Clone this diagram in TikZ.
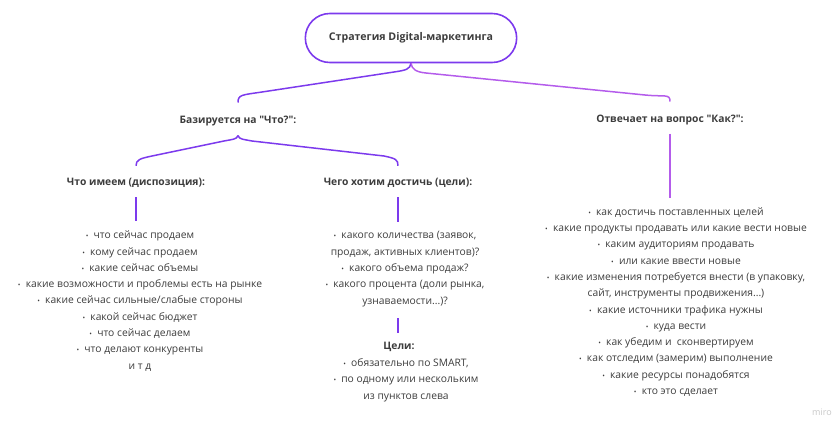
\documentclass[tikz,border=0pt]{standalone}
\usepackage{fontspec}
\setmainfont{Open Sans}
\usetikzlibrary{positioning,shapes.misc}
\definecolor{mpurple}{HTML}{7C3AED}
\definecolor{mviolet}{HTML}{B45CEB}
\definecolor{mtext}{HTML}{3C3C3C}
\tikzset{
	root/.style={rounded rectangle, draw=mpurple, line width=1.6pt, minimum width=218pt, minimum height=49pt, font=\bfseries\fontsize{10.6}{12}\selectfont, text=mtext},
	head/.style={font=\bfseries\fontsize{10.3}{12}\selectfont, text=mtext},
	items/.style={align=center, font=\fontsize{10.3}{16.3}\selectfont, text=mtext},
	link/.style={draw=mpurple, line width=1.5pt},
	link2/.style={draw=mviolet, line width=1.5pt}
}
\newcommand{\bul}{{\scriptsize•}\enspace}
\newcommand{\qt}{\textquotedbl}

\begin{document}
\begin{tikzpicture}[x=1pt, y=-1pt]
	\useasboundingbox (0,0) rectangle (838,421);
	% top
	\node[root] (root) at (411,38) {Стратегия Digital-маркетинга};
	\node[head] (base) at (238,121) {Базируется на \qt Что?\qt:};
	\node[head] (how) at (670,120) {Отвечает на вопрос \qt Как?\qt:};
	\node[head] (have) at (136,183) {Что имеем (диспозиция):};
	\node[head] (want) at (398,183) {Чего хотим достичь (цели):};
	% lists
	\node[items] (haveList) at (140,301) {\bul что сейчас продаем\\ \bul кому сейчас продаем\\ \bul какие сейчас объемы\\
		\bul какие возможности и проблемы есть на рынке\\ \bul какие сейчас сильные/слабые стороны\\
		\bul какой сейчас бюджет\\ \bul что сейчас делаем\\ \bul что делают конкуренты\\ и т д};
	\node[items] (wantList) at (405,269) {\bul какого количества (заявок,\\ продаж, активных клиентов)?\\
		\bul какого объема продаж?\\ \bul какого процента (доли рынка,\\ узнаваемости...)?};
	\node[head] (goals) at (399,347) {Цели:};
	\node[items] (goalsList) at (406,380) {\bul обязательно по SMART,\\ \bul по одному или нескольким\\ из пунктов слева};
	\node[items] (howList) at (676,302) {\bul как достичь поставленных целей\\ \bul какие продукты продавать или какие вести новые\\
		\bul каким аудиториям продавать\\ \bul или какие ввести новые\\ \bul какие изменения потребуется внести (в упаковку,\\
		сайт, инструменты продвижения...)\\ \bul какие источники трафика нужны\\ \bul куда вести\\
		\bul как убедим и \ сконвертируем\\ \bul как отследим (замерим) выполнение\\ \bul какие ресурсы понадобятся\\ \bul кто это сделает};
	\node[text=black!22, font=\fontsize{9}{10}\selectfont] (miro) at (822,412) {miro};
	% braces
	\draw[link] (root.south) .. controls +(-1,6) and +(12,-1.8) .. (394,72) -- (262,92)
		.. controls +(-20,3) and +(0,-8) .. ([yshift=10pt]base.north);
	\draw[link2] (root.south) .. controls +(1,6) and +(-10,-1) .. (426,73) -- (645,95)
		.. controls +(20,2) and +(0,-8) .. ([yshift=10pt]how.north);
	\draw[link] ([yshift=-6pt]base.south) .. controls +(-1,4) and +(8,-1.6) .. (224,141) -- (152,156)
		.. controls +(-12,2.5) and +(0,-6) .. ([yshift=9pt]have.north);
	\draw[link] ([yshift=-6pt]base.south) .. controls +(1,4) and +(-8,-1.6) .. (252,141) -- (384,156)
		.. controls +(12,2.5) and +(0,-6) .. ([yshift=9pt]want.north);
	% stems
	\draw[link, shorten <=6pt, shorten >=6pt] (have.south) -- (have.south |- haveList.north);
	\draw[link, shorten <=6pt, shorten >=6pt] (want.south) -- (want.south |- wantList.north);
	\draw[link, shorten <=8pt, shorten >=6pt] (wantList.south -| want.south) -- (goals.north -| want.south);
	\draw[link2, shorten <=5pt, shorten >=6pt] (how.south) -- (how.south |- howList.north);
\end{tikzpicture}
\end{document}
